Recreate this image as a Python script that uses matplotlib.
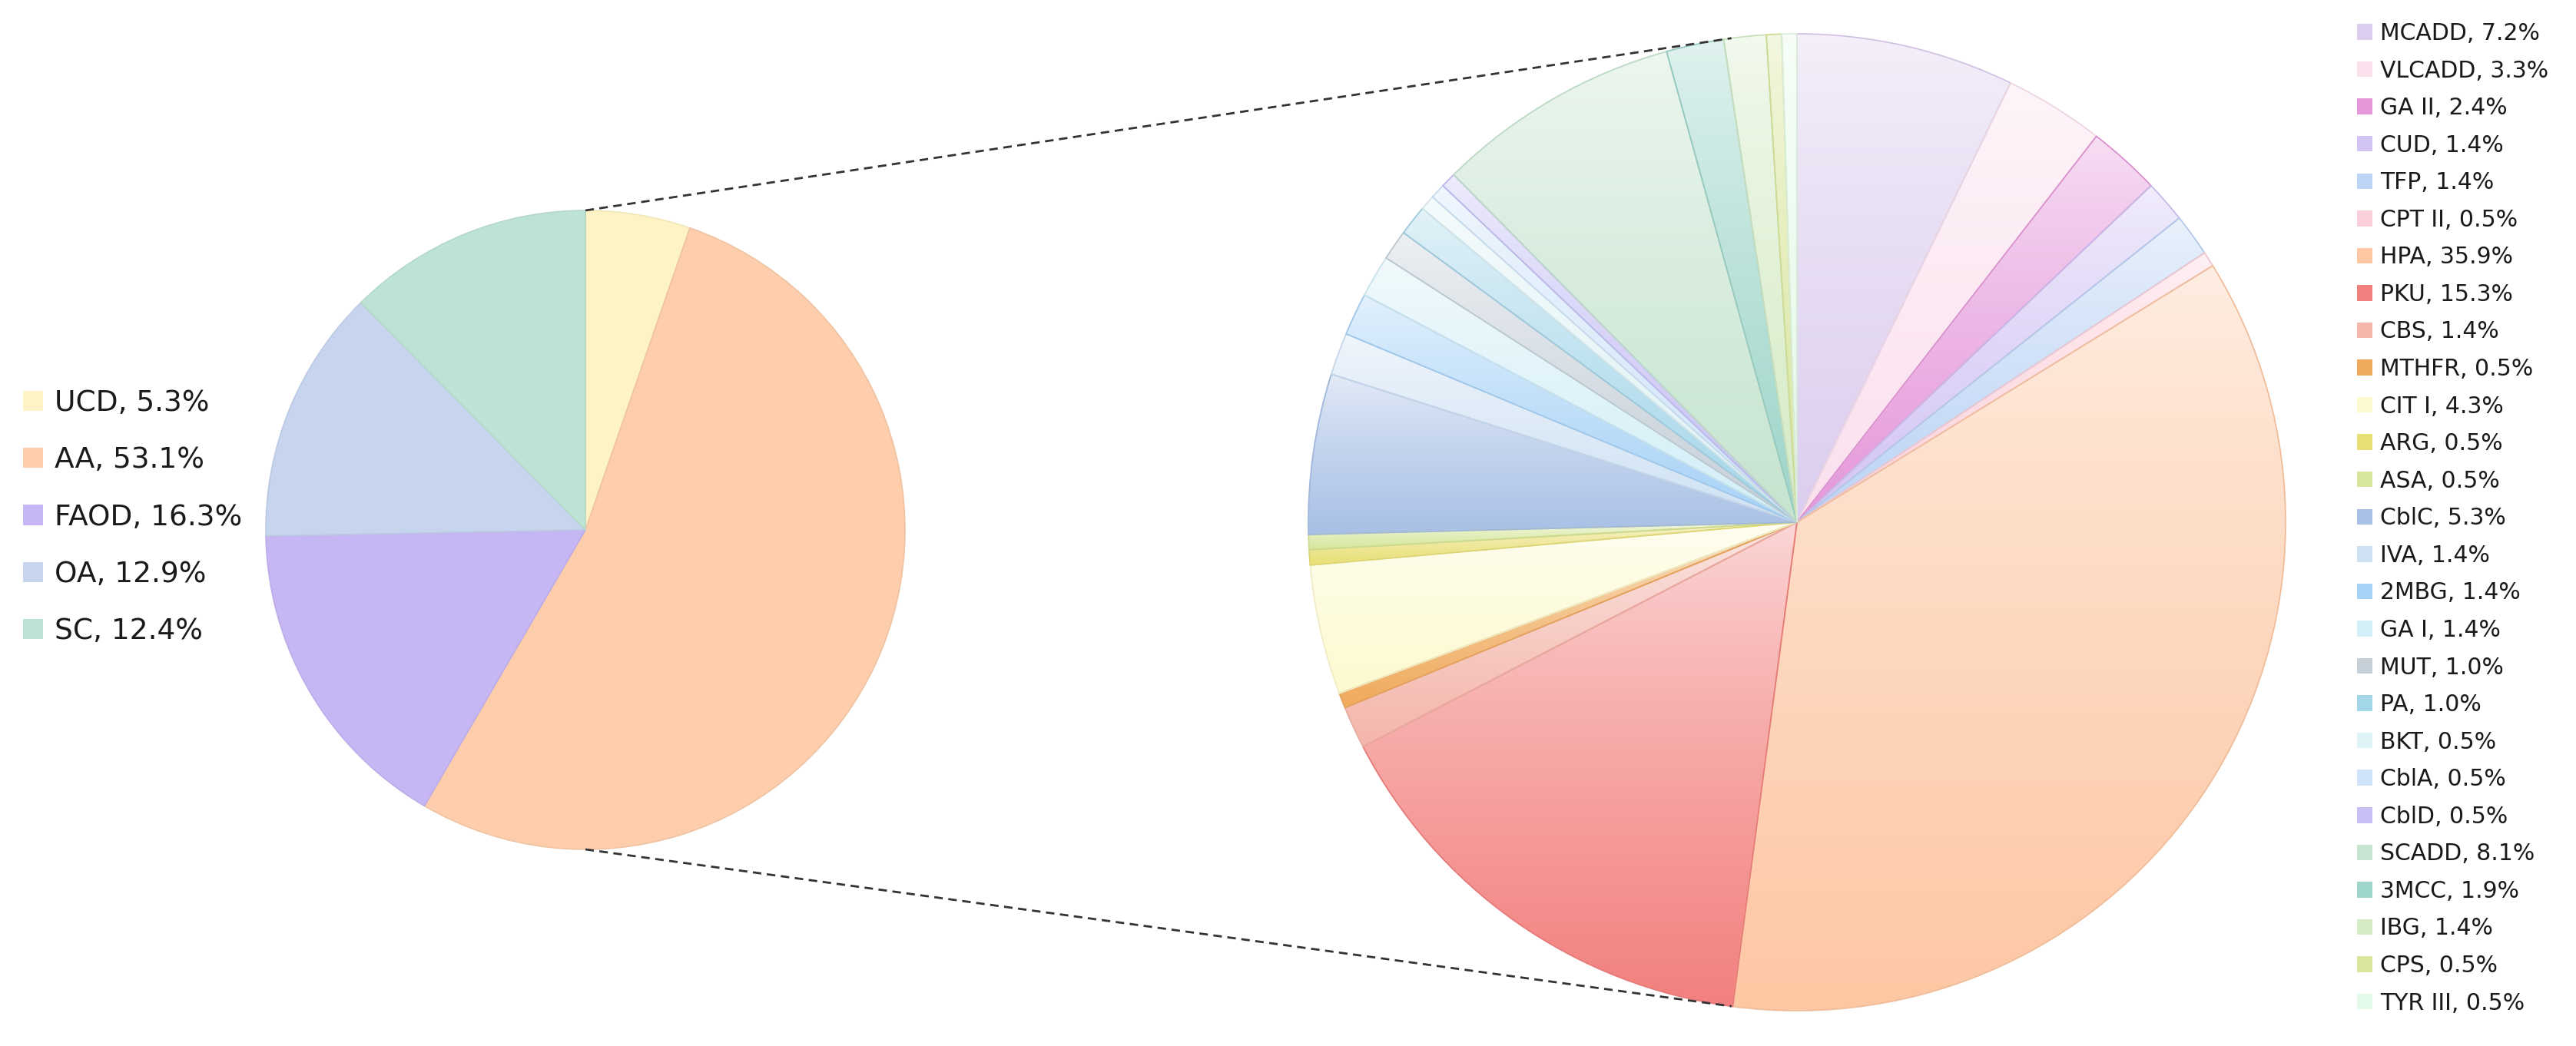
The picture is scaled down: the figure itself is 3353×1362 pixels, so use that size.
import numpy as np
import matplotlib
matplotlib.use("Agg")
import matplotlib.pyplot as plt
from matplotlib.colors import to_rgb
from matplotlib.patches import Patch

# main groups (left pie)
groups = ["UCD", "AA", "FAOD", "OA", "SC"]
group_pct = [5.3, 53.1, 16.3, 12.9, 12.4]
group_colors = ["#fdf3c4", "#fdcdac", "#c6b6f4", "#c6d4ee", "#bde3d5"]

# sub types (right pie), clockwise from 12 o'clock
sub_names = ["MCADD", "VLCADD", "GA II", "CUD", "TFP", "CPT II", "HPA", "PKU",
             "CBS", "MTHFR", "CIT I", "ARG", "ASA", "CblC", "IVA", "2MBG",
             "GA I", "MUT", "PA", "BKT", "CblA", "CblD", "SCADD", "3MCC",
             "IBG", "CPS", "TYR III"]
sub_pct = [7.2, 3.3, 2.4, 1.4, 1.4, 0.5, 35.9, 15.3, 1.4, 0.5, 4.3, 0.5, 0.5,
           5.3, 1.4, 1.4, 1.4, 1.0, 1.0, 0.5, 0.5, 0.5, 8.1, 1.9, 1.4, 0.5, 0.5]
sub_colors = ["#dccdee", "#fbe0ee", "#e597da", "#d2c4f4", "#bcd4f5", "#fcd0da",
              "#fdc7a3", "#f2807e", "#f4b6ab", "#f0aa5c", "#fdfad0", "#e8df74",
              "#d6e79c", "#a8c0e6", "#cfe2f4", "#a6d2f7", "#d3eff7", "#c6d0d9",
              "#a4d6e9", "#dff2f5", "#cfe4fa", "#c6c0f5", "#c6e4cf", "#9dd5ca",
              "#d5ebc6", "#d9e69c", "#e4fae8"]

W, H = 3353, 1362
fig = plt.figure(figsize=(W / 100, H / 100), dpi=100)
ax = fig.add_axes([0, 0, 1, 1])

left_c = (762, H - 690)
left_r = 416
right_c = (2339, H - 680)
right_r = 636


def darker(c, f=0.9):
    return tuple(np.array(to_rgb(c)) * f)


wl, _ = ax.pie(group_pct, colors=group_colors, startangle=90, counterclock=False,
               center=left_c, radius=left_r,
               wedgeprops=dict(linewidth=1.2))
for w, c in zip(wl, group_colors):
    w.set_edgecolor(darker(c, 0.95))

wr, _ = ax.pie(sub_pct, colors=sub_colors, startangle=90, counterclock=False,
               center=right_c, radius=right_r,
               wedgeprops=dict(linewidth=1.3))

# vertical gradient fill for each wedge of the right pie
t = np.linspace(0, 1, 256)[:, None, None]
for w, c in zip(wr, sub_colors):
    base = np.array(to_rgb(c))
    top = base + (1 - base) * 0.7
    img = top * (1 - t ** 0.8) + base * t ** 0.8
    x0, y0, x1, y1 = w.get_path().get_extents().extents
    im = ax.imshow(img, extent=(x0, x1, y0, y1), origin="upper", aspect="auto",
                   interpolation="bilinear", zorder=0.5)
    im.set_clip_path(w)
    w.set_facecolor("none")
    w.set_edgecolor(darker(c, 0.95))

# connector lines
link = np.deg2rad(7.7)
for s in (1, -1):
    p0 = (left_c[0], left_c[1] + s * left_r)
    p1 = (right_c[0] - right_r * np.sin(link), right_c[1] + s * right_r * np.cos(link))
    ax.plot([p0[0], p1[0]], [p0[1], p1[1]], color="#333333", lw=2.0,
            dashes=(4, 2.6), zorder=3)

ax.set_xlim(0, W)
ax.set_ylim(0, H)
ax.set_aspect("auto")
ax.axis("off")

# legends
hl = [Patch(facecolor=c, edgecolor="none") for c in group_colors]
labels_l = [f"{n}, {v}%" for n, v in zip(groups, group_pct)]
leg1 = ax.legend(hl, labels_l, loc="upper left", bbox_to_anchor=(30, H - 507),
                 bbox_transform=ax.transData, frameon=False, borderpad=0,
                 borderaxespad=0, fontsize=27, handlelength=0.7, handleheight=0.7,
                 handletextpad=0.4, labelspacing=1.02, labelcolor="#1a1a1a")
ax.add_artist(leg1)

hr = [Patch(facecolor=c, edgecolor="none") for c in sub_colors]
labels_r = [f"{n}, {v}%" for n, v in zip(sub_names, sub_pct)]
ax.legend(hr, labels_r, loc="upper left", bbox_to_anchor=(3068, H - 29),
          bbox_transform=ax.transData, frameon=False, borderpad=0,
          borderaxespad=0, fontsize=21.5, handlelength=0.68, handleheight=0.68,
          handletextpad=0.32, labelspacing=0.655, labelcolor="#1a1a1a")

fig.savefig("out.png", dpi=100, facecolor="white")
